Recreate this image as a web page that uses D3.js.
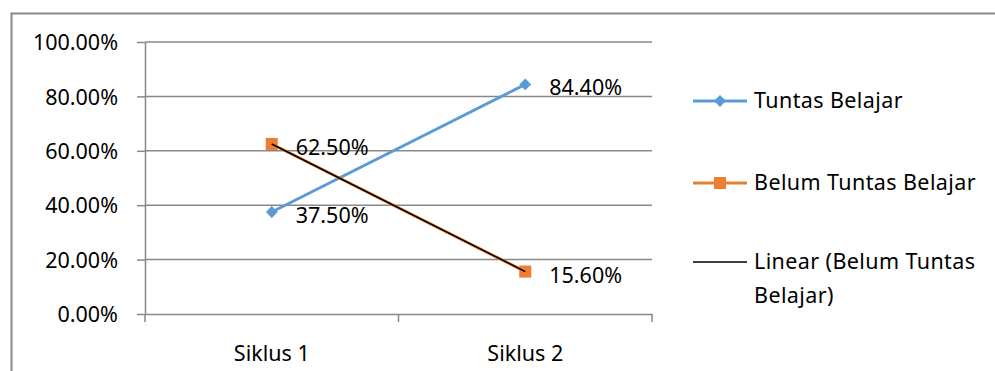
<!DOCTYPE html>
<html>
<head>
<meta charset="utf-8">
<script src="https://cdn.jsdelivr.net/npm/d3@7"></script>
<style>
  body { margin: 0; background: #fff; }
  text { font-family: "Noto Sans", "Liberation Sans", Arial, sans-serif; fill: #000; }
</style>
</head>
<body>
<svg id="chart"></svg>
<script>
const categories = ["Siklus 1", "Siklus 2"];
const tuntas = [0.375, 0.844];
const belumTuntas = [0.625, 0.156];
const yTicks = [0, 0.2, 0.4, 0.6, 0.8, 1.0];
const legendNames = ["Tuntas Belajar", "Belum Tuntas Belajar", "Linear (Belum Tuntas|Belajar)"];

const width = 995;
const height = 371;
const margin = {left: 145, right: 343, top: 42, bottom: 57};
const blue = "#5b9bd5";
const orange = "#ed7d31";
const grey = "#888888";
const font = "'Noto Sans', 'Liberation Sans', Arial, sans-serif";
const fs = "21.5px";

const svg = d3.select("#chart")
  .attr("width", width)
  .attr("height", height);

// outer frame
svg.append("path")
  .attr("d", "M11.5," + height + " V13.5 H" + width)
  .attr("fill", "none")
  .attr("stroke", grey)
  .attr("stroke-width", 2);

const x = d3.scaleBand()
  .domain(categories)
  .range([margin.left, width - margin.right]);

const y = d3.scaleLinear()
  .domain([0, 1])
  .range([height - margin.bottom, margin.top]);

const xc = (d) => x(d) + x.bandwidth() / 2;

// gridlines
svg.append("g")
  .selectAll("line")
  .data(yTicks.filter((d) => d > 0))
  .join("line")
  .attr("x1", margin.left)
  .attr("x2", width - margin.right)
  .attr("y1", (d) => y(d))
  .attr("y2", (d) => y(d))
  .attr("stroke", grey)
  .attr("stroke-width", 1.5);

// y axis
const yAxis = svg.append("g")
  .attr("transform", "translate(" + margin.left + ",0)")
  .call(d3.axisLeft(y).tickValues(yTicks).tickFormat((d) => d3.format(".2f")(d * 100) + "%").tickSize(8).tickSizeOuter(0));
yAxis.select(".domain").attr("stroke", grey).attr("stroke-width", 1.5);
yAxis.selectAll(".tick line").attr("stroke", grey).attr("stroke-width", 1.5);
yAxis.selectAll("text")
  .attr("x", -27)
  .attr("dy", "0.36em")
  .attr("font-size", fs)
  .attr("font-family", font)
  .attr("fill", "#000");

// x axis
const xAxis = svg.append("g")
  .attr("transform", "translate(0," + (height - margin.bottom) + ")")
  .call(d3.axisBottom(x).tickSize(0).tickSizeOuter(0));
xAxis.select(".domain").attr("stroke", grey).attr("stroke-width", 1.5);
xAxis.selectAll("text")
  .attr("y", 32)
  .attr("font-size", fs)
  .attr("font-family", font)
  .attr("fill", "#000");

// tick marks at category boundaries
const bounds = categories.map((d) => x(d)).concat([x(categories[categories.length - 1]) + x.bandwidth()]);
svg.append("g")
  .selectAll("line")
  .data(bounds)
  .join("line")
  .attr("x1", (d) => d)
  .attr("x2", (d) => d)
  .attr("y1", height - margin.bottom)
  .attr("y2", height - margin.bottom + 8)
  .attr("stroke", grey)
  .attr("stroke-width", 1.5);

const line = d3.line()
  .x((d, i) => xc(categories[i]))
  .y((d) => y(d));

// Tuntas series
svg.append("path")
  .attr("d", line(tuntas))
  .attr("fill", "none")
  .attr("stroke", blue)
  .attr("stroke-width", 3);

svg.append("g")
  .selectAll("path")
  .data(tuntas)
  .join("path")
  .attr("d", d3.symbol(d3.symbolDiamond2, 90))
  .attr("transform", (d, i) => "translate(" + xc(categories[i]) + "," + y(d) + ")")
  .attr("fill", blue);

// Belum Tuntas series
svg.append("path")
  .attr("d", line(belumTuntas))
  .attr("fill", "none")
  .attr("stroke", orange)
  .attr("stroke-width", 3);

svg.append("g")
  .selectAll("rect")
  .data(belumTuntas)
  .join("rect")
  .attr("x", (d, i) => xc(categories[i]) - 6)
  .attr("y", (d) => y(d) - 6)
  .attr("width", 12)
  .attr("height", 12)
  .attr("fill", orange);

// linear trendline of Belum Tuntas
const n = belumTuntas.length;
const xs = d3.range(n);
const mx = d3.mean(xs);
const my = d3.mean(belumTuntas);
const slope = d3.sum(xs, (i) => (i - mx) * (belumTuntas[i] - my)) / d3.sum(xs, (i) => (i - mx) * (i - mx));
const intercept = my - slope * mx;
svg.append("path")
  .attr("d", line(xs.map((i) => intercept + slope * i)))
  .attr("fill", "none")
  .attr("stroke", "#000")
  .attr("stroke-width", 1.5);

// data labels
const labelFmt = (d) => d3.format(".2f")(d * 100) + "%";
const labels = [];
tuntas.forEach((d, i) => labels.push({cat: categories[i], v: d}));
belumTuntas.forEach((d, i) => labels.push({cat: categories[i], v: d}));
svg.append("g")
  .selectAll("text")
  .data(labels)
  .join("text")
  .attr("x", (d) => xc(d.cat) + 24)
  .attr("y", (d) => y(d.v) + 11)
  .attr("font-size", fs)
  .text((d) => labelFmt(d.v));

// legend
const legendY = [101, 183, 262];
const lg = svg.append("g");
legendNames.forEach((name, i) => {
  const g = lg.append("g").attr("transform", "translate(0," + legendY[i] + ")");
  g.append("line")
    .attr("x1", 693).attr("x2", 747)
    .attr("stroke", i === 0 ? blue : i === 1 ? orange : "#000")
    .attr("stroke-width", i === 2 ? 1.5 : 3);
  if (i === 0) {
    g.append("path")
      .attr("d", d3.symbol(d3.symbolDiamond2, 90))
      .attr("transform", "translate(720,0)")
      .attr("fill", blue);
  } else if (i === 1) {
    g.append("rect")
      .attr("x", 714).attr("y", -6).attr("width", 12).attr("height", 12)
      .attr("fill", orange);
  }
  name.split("|").forEach((part, j) => {
    g.append("text")
      .attr("x", 754)
      .attr("y", 7 + j * 34)
      .attr("font-size", fs)
      .attr("letter-spacing", "0.4px")
      .text(part);
  });
});
</script>
</body>
</html>
